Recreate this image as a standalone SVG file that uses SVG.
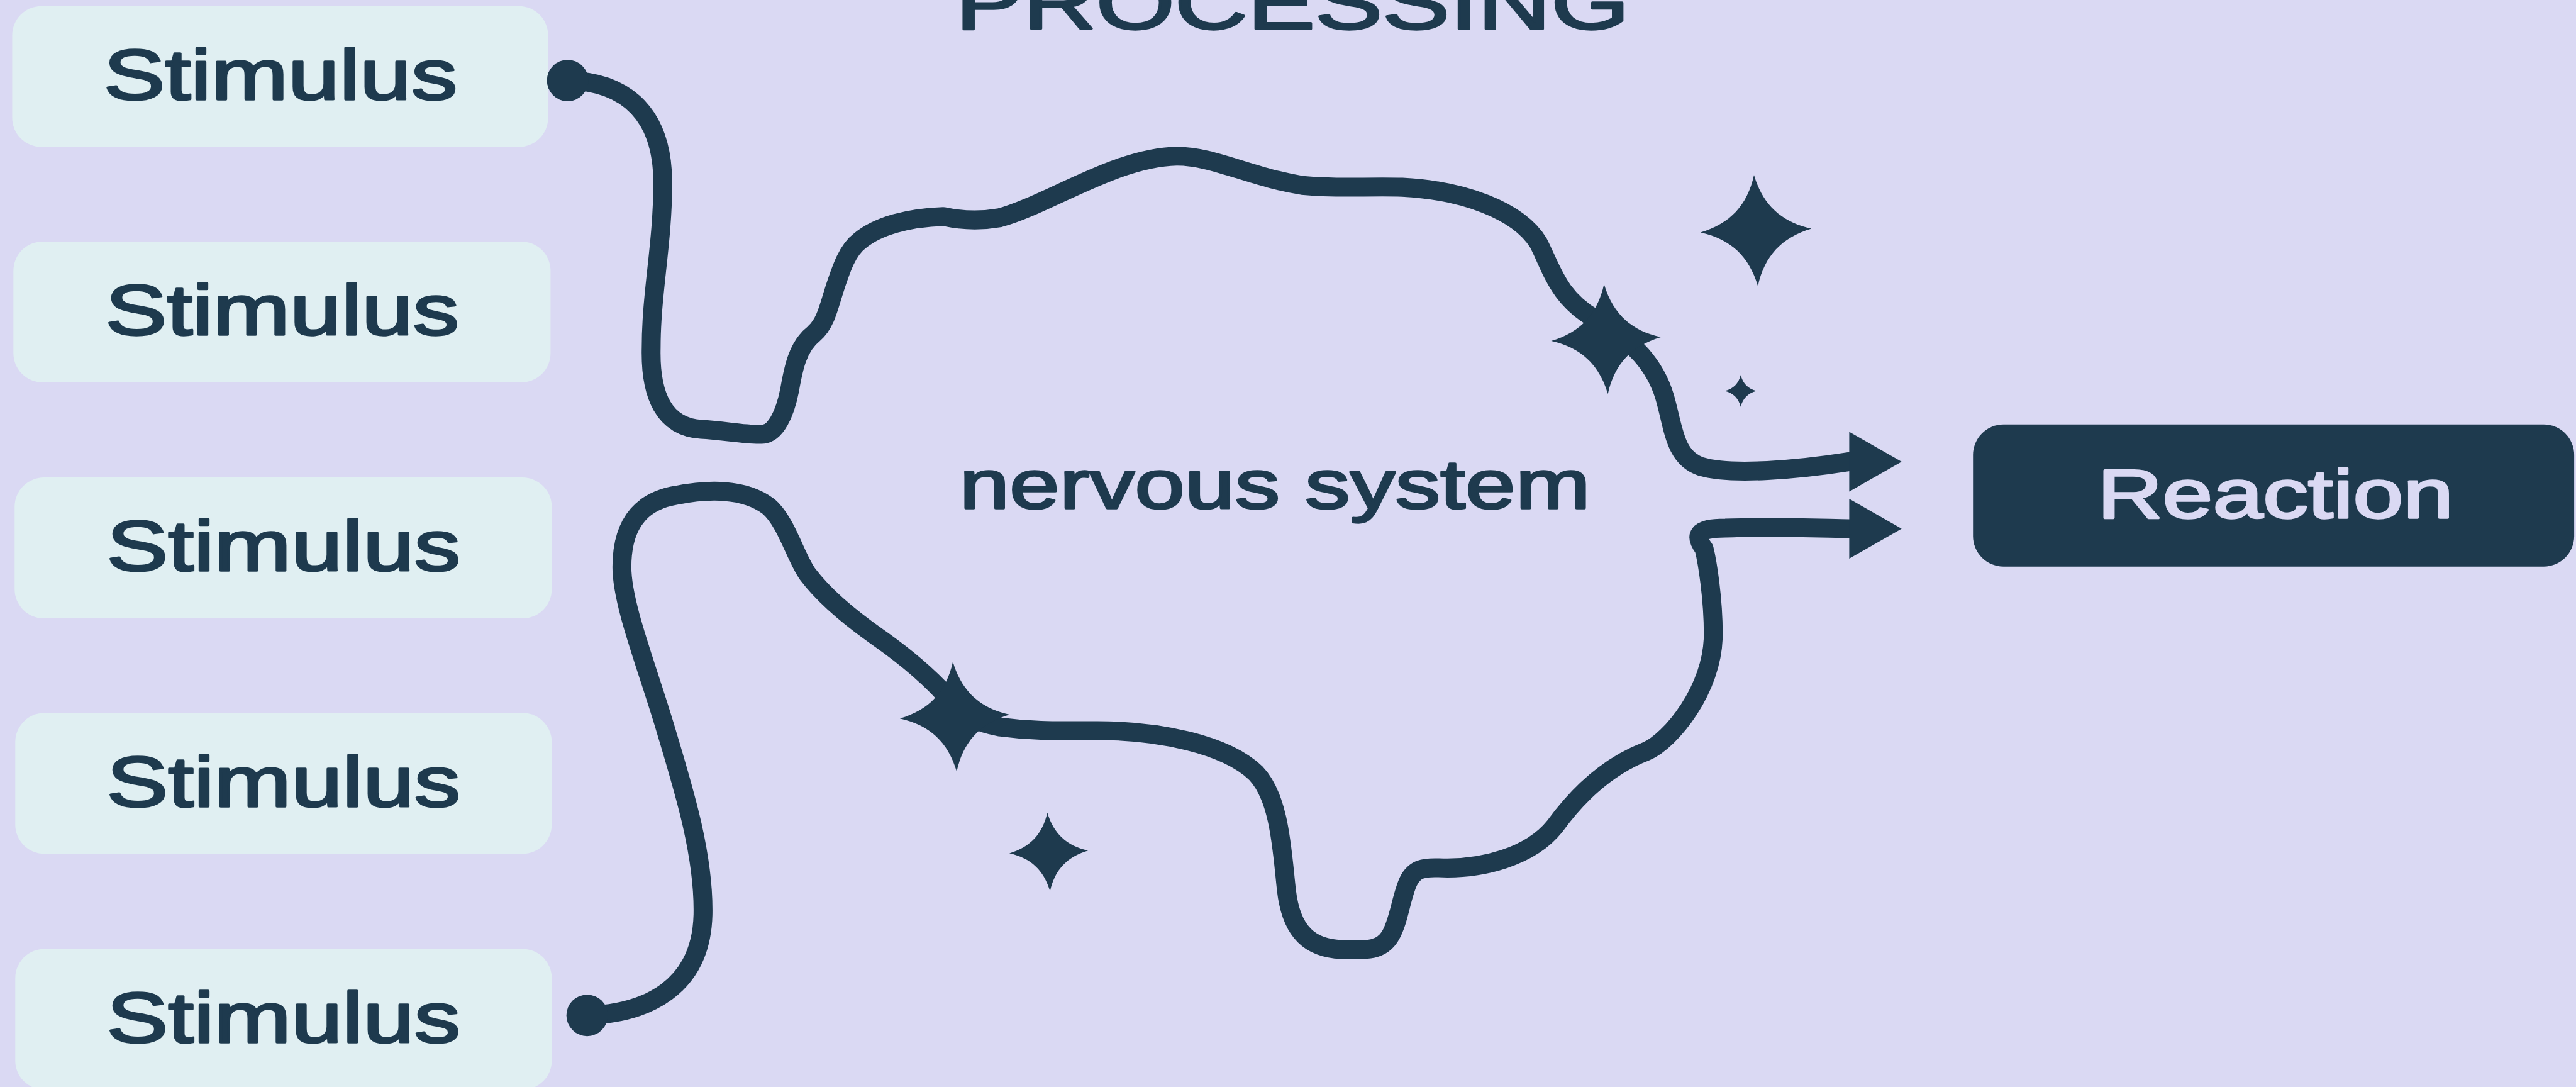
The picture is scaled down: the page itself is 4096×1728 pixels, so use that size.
<svg xmlns="http://www.w3.org/2000/svg" width="4096" height="1728" viewBox="0 0 4096 1728">
<defs>
<style>
.bg{fill:#DAD9F3}
.stim rect{fill:#E0EFF2}
.react rect{fill:#1E3A4E}
.lbl{font-family:"Liberation Sans",Arial,sans-serif;font-weight:normal;fill:#1E3A4E;stroke:#1E3A4E;stroke-width:3.5;stroke-linejoin:round}
.react .lbl{fill:#DAD9F3;stroke:#DAD9F3}
.wire{fill:none;stroke:#1E3A4E;stroke-width:31;stroke-linecap:round;stroke-linejoin:round}
.spark{fill:#1E3A4E}
</style>
<marker id="arrow" markerUnits="userSpaceOnUse" orient="0" refX="0" refY="0" markerWidth="100" markerHeight="110" viewBox="0 -55 100 110" overflow="visible">
<polygon points="0,-49 86,0 0,49" fill="#1E3A4E"/>
</marker>
<marker id="dot" markerUnits="userSpaceOnUse" orient="0" refX="0" refY="0" markerWidth="80" markerHeight="80" viewBox="-40 -40 80 80" overflow="visible">
<circle cx="0" cy="0" r="34" fill="#1E3A4E"/>
</marker>
<path id="sparkle" d="M0,-100 C14,-46 46,-14 100,0 C46,14 14,46 0,100 C-14,46 -46,14 -100,0 C-46,-14 -14,-46 0,-100 Z"/>
</defs>
<rect class="bg" x="0" y="0" width="4096" height="1728"/>
<g transform="scale(0.96947)">
<text id="title" class="lbl" transform="translate(2120,47) scale(1.338,1)" x="0" y="0" text-anchor="middle" font-size="124" textLength="826" lengthAdjust="spacing">PROCESSING</text>
<g id="stimulus-1" class="stim"><rect x="20" y="10" width="879" height="231" rx="48"/><text class="lbl" transform="translate(460,163) scale(1.304,1)" x="0" y="0" text-anchor="middle" font-size="116" textLength="445" lengthAdjust="spacing">Stimulus</text></g>
<g id="stimulus-2" class="stim"><rect x="22" y="396" width="881" height="231" rx="48"/><text class="lbl" transform="translate(463,549) scale(1.304,1)" x="0" y="0" text-anchor="middle" font-size="116" textLength="445" lengthAdjust="spacing">Stimulus</text></g>
<g id="stimulus-3" class="stim"><rect x="24" y="783" width="881" height="231" rx="48"/><text class="lbl" transform="translate(465,936) scale(1.304,1)" x="0" y="0" text-anchor="middle" font-size="116" textLength="445" lengthAdjust="spacing">Stimulus</text></g>
<g id="stimulus-4" class="stim"><rect x="25" y="1169" width="880" height="231" rx="48"/><text class="lbl" transform="translate(465,1322) scale(1.304,1)" x="0" y="0" text-anchor="middle" font-size="116" textLength="445" lengthAdjust="spacing">Stimulus</text></g>
<g id="stimulus-5" class="stim"><rect x="25" y="1556" width="880" height="231" rx="48"/><text class="lbl" transform="translate(465,1709) scale(1.304,1)" x="0" y="0" text-anchor="middle" font-size="116" textLength="445" lengthAdjust="spacing">Stimulus</text></g>
<g id="nervous-system"><text class="lbl" transform="translate(2091,833) scale(1.313,1)" x="0" y="0" text-anchor="middle" font-size="112" textLength="788" lengthAdjust="spacing">nervous system</text></g>
<g id="reaction" class="react"><rect x="3236" y="696" width="986" height="233" rx="50"/><text class="lbl" transform="translate(3732,849) scale(1.321,1)" x="0" y="0" text-anchor="middle" font-size="112" textLength="442" lengthAdjust="spacing">Reaction</text></g>
<g id="connectors">
<path class="wire" marker-start="url(#dot)" marker-end="url(#arrow)" d="M931,132 C1030,134 1087,190 1087,300 C1087,400 1068,480 1068,570 C1066,650 1090,700 1150,704 C1190,706 1225,714 1252,712 C1272,710 1287,680 1295,640 C1301,605 1308,568 1335,547 C1355,530 1360,500 1370,470 C1380,440 1390,410 1410,395 C1440,370 1490,357 1547,355 C1570,360 1600,364 1640,357 C1720,335 1830,258 1930,256 C1990,256 2050,290 2136,304 C2200,310 2240,305 2300,307 C2400,312 2490,345 2523,398 C2545,440 2555,490 2620,525 C2680,560 2715,600 2730,650 C2745,700 2745,750 2790,765 C2840,780 2950,770 3033,757"/>
<path class="wire" marker-start="url(#dot)" marker-end="url(#arrow)" d="M963,1665 C1060,1662 1150,1620 1153,1500 C1155,1400 1120,1290 1090,1190 C1060,1090 1020,990 1020,930 C1020,850 1060,820 1110,812 C1160,802 1220,800 1260,830 C1290,855 1305,915 1325,942 C1350,975 1390,1010 1440,1045 C1490,1080 1530,1115 1560,1150 C1580,1172 1600,1185 1640,1192 C1700,1200 1740,1198 1800,1198 C1900,1198 2010,1220 2060,1268 C2100,1310 2103,1400 2110,1460 C2118,1530 2150,1555 2200,1557 C2240,1558 2265,1560 2280,1535 C2295,1510 2298,1470 2310,1445 C2320,1425 2335,1422 2360,1423 C2430,1426 2510,1405 2550,1355 C2590,1300 2640,1255 2700,1232 C2740,1215 2810,1130 2810,1040 C2810,980 2800,920 2795,900 C2780,880 2780,866 2830,866 C2900,863 2980,866 3033,867"/>
</g>
<g id="sparkles" class="spark">
<use href="#sparkle" transform="translate(2634,556) rotate(-2) scale(0.9)"/>
<use href="#sparkle" transform="translate(2880,378) rotate(-2) scale(0.91)"/>
<use href="#sparkle" transform="translate(2855,641) scale(0.26)"/>
<use href="#sparkle" transform="translate(1566,1175) rotate(-2) scale(0.9)"/>
<use href="#sparkle" transform="translate(1720,1397) rotate(-2) scale(0.645)"/>
</g>
</g>
</svg>
